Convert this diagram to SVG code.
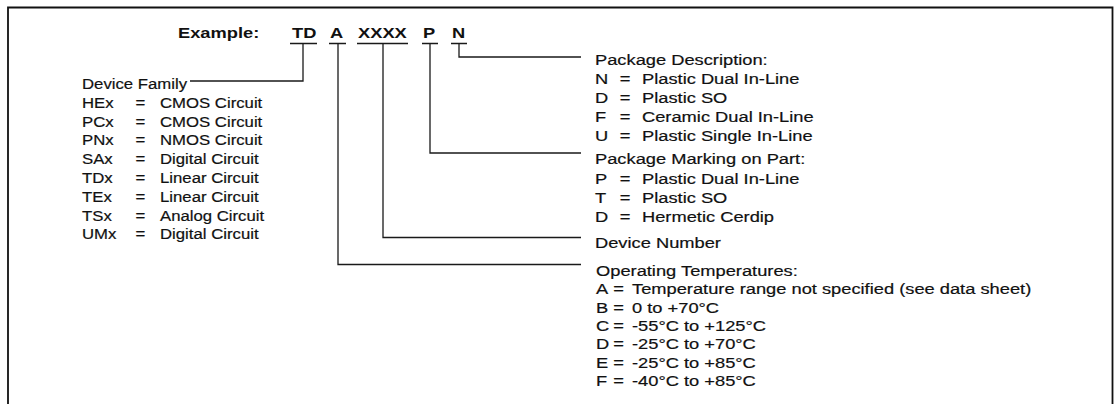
<svg xmlns="http://www.w3.org/2000/svg" width="1114" height="404" viewBox="0 0 1114 404">
<style>
.t{font-family:"Liberation Sans",Arial,Helvetica,sans-serif;font-size:15.5px;fill:#111;stroke:#111;stroke-width:0.2}
.b{font-family:"Liberation Sans",Arial,Helvetica,sans-serif;font-size:15.5px;font-weight:bold;fill:#111}
.m{text-anchor:middle}
.ln{fill:none;stroke:#1a1a1a;stroke-width:1.3}
.fr{fill:none;stroke:#111;stroke-width:1.8}
</style>
<rect width="1114" height="404" fill="#fff"/>
<path class="fr" d="M8,404 V7.5 H1112.5 V404"/>

<g id="example">
<text class="b" transform="translate(178,38) scale(1.18,1)">Example:</text>
<text class="b" transform="translate(292,38) scale(1.18,1)">TD</text>
<text class="b" transform="translate(330,38) scale(1.18,1)">A</text>
<text class="b" transform="translate(358,38) scale(1.18,1)">XXXX</text>
<text class="b" transform="translate(423,38) scale(1.18,1)">P</text>
<text class="b" transform="translate(452,38) scale(1.18,1)">N</text>
</g>

<g id="connectors">
<path class="ln" d="M290,43.5 H317 M329,43.5 H346 M357,43.5 H408 M422,43.5 H438 M451,43.5 H467"/>
<path class="ln" d="M303,43.5 V81 H190"/>
<path class="ln" d="M338,43.5 V264.5 H581"/>
<path class="ln" d="M383,43.5 V237.5 H581"/>
<path class="ln" d="M430,43.5 V153 H581"/>
<path class="ln" d="M459,43.5 V57 H581"/>
</g>

<g id="device-family">
<text class="t" transform="translate(82,89) scale(1.08,1)">Device Family</text>
<text class="t" transform="translate(82,107.8) scale(1.08,1)">HEx</text>
<text class="t m" transform="translate(140.5,107.8) scale(1.08,1)">=</text>
<text class="t" transform="translate(160,107.8) scale(1.08,1)">CMOS Circuit</text>
<text class="t" transform="translate(82,126.6) scale(1.08,1)">PCx</text>
<text class="t m" transform="translate(140.5,126.6) scale(1.08,1)">=</text>
<text class="t" transform="translate(160,126.6) scale(1.08,1)">CMOS Circuit</text>
<text class="t" transform="translate(82,145.4) scale(1.08,1)">PNx</text>
<text class="t m" transform="translate(140.5,145.4) scale(1.08,1)">=</text>
<text class="t" transform="translate(160,145.4) scale(1.08,1)">NMOS Circuit</text>
<text class="t" transform="translate(82,164.2) scale(1.08,1)">SAx</text>
<text class="t m" transform="translate(140.5,164.2) scale(1.08,1)">=</text>
<text class="t" transform="translate(160,164.2) scale(1.08,1)">Digital Circuit</text>
<text class="t" transform="translate(82,183) scale(1.08,1)">TDx</text>
<text class="t m" transform="translate(140.5,183) scale(1.08,1)">=</text>
<text class="t" transform="translate(160,183) scale(1.08,1)">Linear Circuit</text>
<text class="t" transform="translate(82,201.8) scale(1.08,1)">TEx</text>
<text class="t m" transform="translate(140.5,201.8) scale(1.08,1)">=</text>
<text class="t" transform="translate(160,201.8) scale(1.08,1)">Linear Circuit</text>
<text class="t" transform="translate(82,220.6) scale(1.08,1)">TSx</text>
<text class="t m" transform="translate(140.5,220.6) scale(1.08,1)">=</text>
<text class="t" transform="translate(160,220.6) scale(1.08,1)">Analog Circuit</text>
<text class="t" transform="translate(82,239.4) scale(1.08,1)">UMx</text>
<text class="t m" transform="translate(140.5,239.4) scale(1.08,1)">=</text>
<text class="t" transform="translate(160,239.4) scale(1.08,1)">Digital Circuit</text>
</g>

<g id="package-description">
<text class="t" transform="translate(595,65) scale(1.18,1)">Package Description:</text>
<text class="t" transform="translate(595,84) scale(1.18,1)">N</text>
<text class="t m" transform="translate(625,84) scale(1.18,1)">=</text>
<text class="t" transform="translate(642,84) scale(1.18,1)">Plastic Dual In-Line</text>
<text class="t" transform="translate(595,103) scale(1.18,1)">D</text>
<text class="t m" transform="translate(625,103) scale(1.18,1)">=</text>
<text class="t" transform="translate(642,103) scale(1.18,1)">Plastic SO</text>
<text class="t" transform="translate(595,122) scale(1.18,1)">F</text>
<text class="t m" transform="translate(625,122) scale(1.18,1)">=</text>
<text class="t" transform="translate(642,122) scale(1.18,1)">Ceramic Dual In-Line</text>
<text class="t" transform="translate(595,141) scale(1.18,1)">U</text>
<text class="t m" transform="translate(625,141) scale(1.18,1)">=</text>
<text class="t" transform="translate(642,141) scale(1.18,1)">Plastic Single In-Line</text>
</g>

<g id="package-marking">
<text class="t" transform="translate(595,164) scale(1.18,1)">Package Marking on Part:</text>
<text class="t" transform="translate(595,184) scale(1.18,1)">P</text>
<text class="t m" transform="translate(625,184) scale(1.18,1)">=</text>
<text class="t" transform="translate(642,184) scale(1.18,1)">Plastic Dual In-Line</text>
<text class="t" transform="translate(595,203) scale(1.18,1)">T</text>
<text class="t m" transform="translate(625,203) scale(1.18,1)">=</text>
<text class="t" transform="translate(642,203) scale(1.18,1)">Plastic SO</text>
<text class="t" transform="translate(595,222) scale(1.18,1)">D</text>
<text class="t m" transform="translate(625,222) scale(1.18,1)">=</text>
<text class="t" transform="translate(642,222) scale(1.18,1)">Hermetic Cerdip</text>
</g>

<g id="device-number">
<text class="t" transform="translate(595,248) scale(1.18,1)">Device Number</text>
</g>

<g id="operating-temperatures">
<text class="t" transform="translate(596,276) scale(1.18,1)">Operating Temperatures:</text>
<text class="t" transform="translate(596,294.3) scale(1.18,1)">A</text>
<text class="t m" transform="translate(618.5,294.3) scale(1.18,1)">=</text>
<text class="t" transform="translate(632,294.3) scale(1.18,1)">Temperature range not specified (see data sheet)</text>
<text class="t" transform="translate(596,312.6) scale(1.18,1)">B</text>
<text class="t m" transform="translate(618.5,312.6) scale(1.18,1)">=</text>
<text class="t" transform="translate(632,312.6) scale(1.18,1)">0 to +70°C</text>
<text class="t" transform="translate(596,330.9) scale(1.18,1)">C</text>
<text class="t m" transform="translate(618.5,330.9) scale(1.18,1)">=</text>
<text class="t" transform="translate(632,330.9) scale(1.18,1)">-55°C to +125°C</text>
<text class="t" transform="translate(596,349.2) scale(1.18,1)">D</text>
<text class="t m" transform="translate(618.5,349.2) scale(1.18,1)">=</text>
<text class="t" transform="translate(632,349.2) scale(1.18,1)">-25°C to +70°C</text>
<text class="t" transform="translate(596,367.5) scale(1.18,1)">E</text>
<text class="t m" transform="translate(618.5,367.5) scale(1.18,1)">=</text>
<text class="t" transform="translate(632,367.5) scale(1.18,1)">-25°C to +85°C</text>
<text class="t" transform="translate(596,385.8) scale(1.18,1)">F</text>
<text class="t m" transform="translate(618.5,385.8) scale(1.18,1)">=</text>
<text class="t" transform="translate(632,385.8) scale(1.18,1)">-40°C to +85°C</text>
</g>
</svg>
